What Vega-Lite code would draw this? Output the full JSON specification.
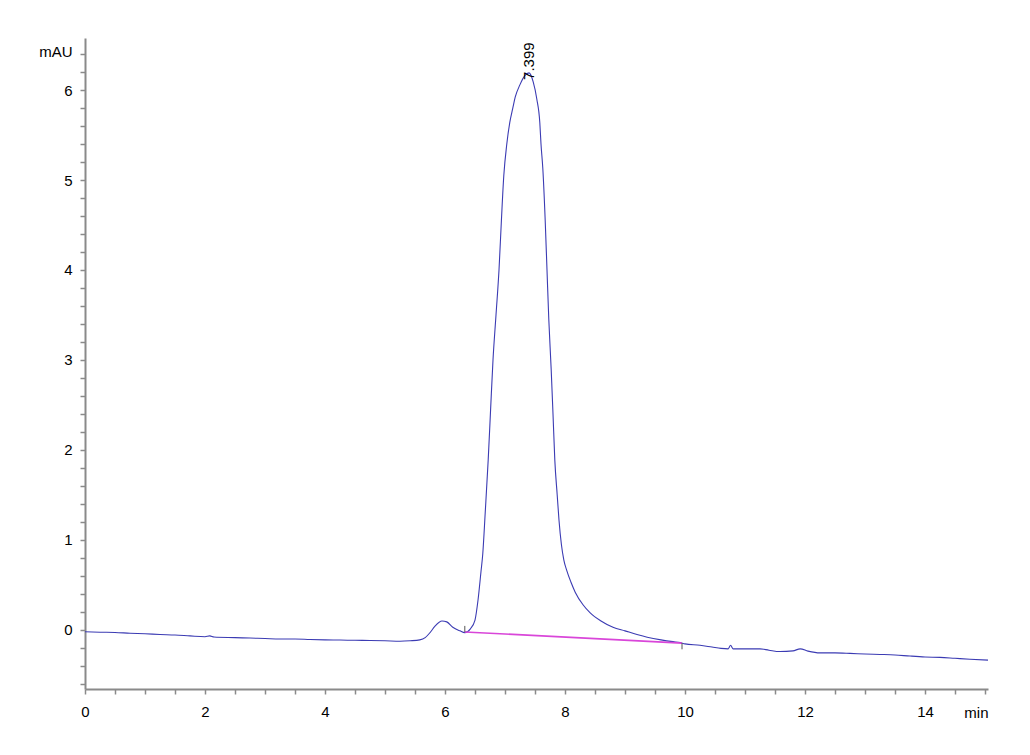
{
  "$schema": "https://vega.github.io/schema/vega-lite/v6.json",
  "width": 903,
  "height": 651,
  "autosize": {"type": "none"},
  "padding": {"left": 85, "top": 38, "right": 42, "bottom": 66},
  "background": "white",
  "config": {
    "view": {"stroke": null},
    "font": "Liberation Sans Narrow, Liberation Sans, Arial, sans-serif"
  },
  "datasets": {
    "trace": [
      {"rt": 0.0, "mAU": -0.02}, {"rt": 0.25, "mAU": -0.025}, {"rt": 0.5, "mAU": -0.028}, {"rt": 0.75, "mAU": -0.036},
      {"rt": 1.0, "mAU": -0.042}, {"rt": 1.25, "mAU": -0.05}, {"rt": 1.5, "mAU": -0.056}, {"rt": 1.75, "mAU": -0.066},
      {"rt": 2.0, "mAU": -0.075}, {"rt": 2.08, "mAU": -0.066}, {"rt": 2.15, "mAU": -0.078}, {"rt": 2.5, "mAU": -0.085},
      {"rt": 2.75, "mAU": -0.09}, {"rt": 3.0, "mAU": -0.095}, {"rt": 3.25, "mAU": -0.1}, {"rt": 3.5, "mAU": -0.1},
      {"rt": 3.75, "mAU": -0.106}, {"rt": 4.0, "mAU": -0.11}, {"rt": 4.25, "mAU": -0.112}, {"rt": 4.5, "mAU": -0.115},
      {"rt": 4.75, "mAU": -0.117}, {"rt": 5.0, "mAU": -0.12}, {"rt": 5.25, "mAU": -0.125}, {"rt": 5.42, "mAU": -0.12},
      {"rt": 5.58, "mAU": -0.11}, {"rt": 5.67, "mAU": -0.085}, {"rt": 5.75, "mAU": -0.03}, {"rt": 5.83, "mAU": 0.04},
      {"rt": 5.95, "mAU": 0.1}, {"rt": 6.03, "mAU": 0.09}, {"rt": 6.13, "mAU": 0.03}, {"rt": 6.25, "mAU": -0.01},
      {"rt": 6.33, "mAU": -0.03}, {"rt": 6.42, "mAU": 0.01}, {"rt": 6.5, "mAU": 0.11}, {"rt": 6.55, "mAU": 0.33},
      {"rt": 6.6, "mAU": 0.65}, {"rt": 6.63, "mAU": 0.85}, {"rt": 6.67, "mAU": 1.3}, {"rt": 6.72, "mAU": 1.89},
      {"rt": 6.76, "mAU": 2.45}, {"rt": 6.8, "mAU": 3.0}, {"rt": 6.85, "mAU": 3.5}, {"rt": 6.9, "mAU": 4.0},
      {"rt": 6.94, "mAU": 4.55}, {"rt": 6.98, "mAU": 5.05}, {"rt": 7.03, "mAU": 5.4}, {"rt": 7.08, "mAU": 5.64},
      {"rt": 7.13, "mAU": 5.8}, {"rt": 7.17, "mAU": 5.92}, {"rt": 7.25, "mAU": 6.06}, {"rt": 7.33, "mAU": 6.16},
      {"rt": 7.4, "mAU": 6.19}, {"rt": 7.47, "mAU": 6.09}, {"rt": 7.53, "mAU": 5.9}, {"rt": 7.58, "mAU": 5.64},
      {"rt": 7.6, "mAU": 5.4}, {"rt": 7.63, "mAU": 5.13}, {"rt": 7.67, "mAU": 4.55}, {"rt": 7.7, "mAU": 4.0},
      {"rt": 7.73, "mAU": 3.45}, {"rt": 7.77, "mAU": 2.89}, {"rt": 7.8, "mAU": 2.4}, {"rt": 7.83, "mAU": 1.89},
      {"rt": 7.87, "mAU": 1.5}, {"rt": 7.9, "mAU": 1.22}, {"rt": 7.94, "mAU": 0.95}, {"rt": 7.98, "mAU": 0.78},
      {"rt": 8.03, "mAU": 0.66}, {"rt": 8.1, "mAU": 0.53}, {"rt": 8.17, "mAU": 0.42}, {"rt": 8.3, "mAU": 0.28},
      {"rt": 8.42, "mAU": 0.19}, {"rt": 8.6, "mAU": 0.1}, {"rt": 8.8, "mAU": 0.03}, {"rt": 9.0, "mAU": -0.01},
      {"rt": 9.2, "mAU": -0.05}, {"rt": 9.37, "mAU": -0.08}, {"rt": 9.6, "mAU": -0.11}, {"rt": 9.8, "mAU": -0.13},
      {"rt": 9.92, "mAU": -0.14}, {"rt": 10.0, "mAU": -0.155}, {"rt": 10.25, "mAU": -0.17}, {"rt": 10.45, "mAU": -0.19},
      {"rt": 10.6, "mAU": -0.205}, {"rt": 10.72, "mAU": -0.21}, {"rt": 10.76, "mAU": -0.17}, {"rt": 10.8, "mAU": -0.21},
      {"rt": 11.0, "mAU": -0.21}, {"rt": 11.25, "mAU": -0.21}, {"rt": 11.4, "mAU": -0.225}, {"rt": 11.58, "mAU": -0.24},
      {"rt": 11.8, "mAU": -0.232}, {"rt": 11.92, "mAU": -0.21}, {"rt": 12.05, "mAU": -0.235}, {"rt": 12.25, "mAU": -0.255},
      {"rt": 12.5, "mAU": -0.255}, {"rt": 12.75, "mAU": -0.26}, {"rt": 13.0, "mAU": -0.267}, {"rt": 13.25, "mAU": -0.272},
      {"rt": 13.5, "mAU": -0.278}, {"rt": 13.75, "mAU": -0.29}, {"rt": 14.0, "mAU": -0.3}, {"rt": 14.25, "mAU": -0.305},
      {"rt": 14.5, "mAU": -0.315}, {"rt": 14.75, "mAU": -0.325}, {"rt": 15.05, "mAU": -0.335}
    ],
    "baseline": [
      {"rt": 6.33, "mAU": -0.022},
      {"rt": 9.95, "mAU": -0.146}
    ],
    "marks": [
      {"rt": 6.33, "mAU": -0.022, "mAU2": 0.045},
      {"rt": 9.95, "mAU": -0.146, "mAU2": -0.215}
    ],
    "peaks": [
      {"rt": 7.399, "mAU": 6.19, "label": "7.399"}
    ]
  },
  "layer": [
    {
      "data": {"name": "trace"},
      "mark": {"type": "line", "color": "#3b3bb3", "strokeWidth": 1.1, "interpolate": "monotone"},
      "encoding": {
        "x": {
          "field": "rt", "type": "quantitative",
          "scale": {"domain": [0, 15.05], "nice": false, "zero": false},
          "axis": {
            "values": [0,0.5,1,1.5,2,2.5,3,3.5,4,4.5,5,5.5,6,6.5,7,7.5,8,8.5,9,9.5,10,10.5,11,11.5,12,12.5,13,13.5,14,14.5,15],
            "tickCount": 200,
            "labelExpr": "datum.value % 2 == 0 ? format(datum.value, 'd') : ''",
            "title": "min", "titleX": 903, "titleY": 23, "titleAlign": "right", "titleBaseline": "middle",
            "titleFontSize": 15, "titleFontWeight": "normal", "titleColor": "#000000",
            "domainColor": "#8a8a8a", "domainWidth": 2, "tickColor": "#8a8a8a", "tickWidth": 1.5, "tickSize": 5,
            "labelFontSize": 15, "labelPadding": 10, "labelColor": "#000000", "grid": false,
            "labelFlush": false, "labelOverlap": false
          }
        },
        "y": {
          "field": "mAU", "type": "quantitative",
          "scale": {"domain": [-0.656, 6.578], "nice": false, "zero": false},
          "axis": {
            "values": [-0.6,-0.4,-0.2,0,0.2,0.4,0.6,0.8,1,1.2,1.4,1.6,1.8,2,2.2,2.4,2.6,2.8,3,3.2,3.4,3.6,3.8,4,4.2,4.4,4.6,4.8,5,5.2,5.4,5.6,5.8,6,6.2,6.4],
            "tickCount": 200,
            "labelExpr": "abs(datum.value - round(datum.value)) < 0.001 ? format(round(datum.value), 'd') : ''",
            "title": "mAU", "titleAngle": 0, "titleX": -13, "titleY": 13, "titleAlign": "right", "titleBaseline": "middle",
            "titleFontSize": 15, "titleFontWeight": "normal", "titleColor": "#000000",
            "domainColor": "#8a8a8a", "domainWidth": 2, "tickColor": "#8a8a8a", "tickWidth": 1.5, "tickSize": 5,
            "labelFontSize": 15, "labelPadding": 8, "labelColor": "#000000", "grid": false,
            "labelFlush": false, "labelOverlap": false
          }
        }
      }
    },
    {
      "data": {"name": "baseline"},
      "mark": {"type": "line", "color": "#d946d9", "strokeWidth": 1.6},
      "encoding": {
        "x": {"field": "rt", "type": "quantitative"},
        "y": {"field": "mAU", "type": "quantitative"}
      }
    },
    {
      "data": {"name": "marks"},
      "mark": {"type": "rule", "color": "#555555", "strokeWidth": 1},
      "encoding": {
        "x": {"field": "rt", "type": "quantitative"},
        "y": {"field": "mAU", "type": "quantitative"},
        "y2": {"field": "mAU2"}
      }
    },
    {
      "data": {"name": "peaks"},
      "mark": {"type": "text", "angle": 270, "align": "left", "baseline": "middle", "dx": -7, "font": "Liberation Sans, Arial, sans-serif", "fontSize": 15, "color": "#000000"},
      "encoding": {
        "x": {"field": "rt", "type": "quantitative"},
        "y": {"field": "mAU", "type": "quantitative"},
        "text": {"field": "label"}
      }
    }
  ]
}
